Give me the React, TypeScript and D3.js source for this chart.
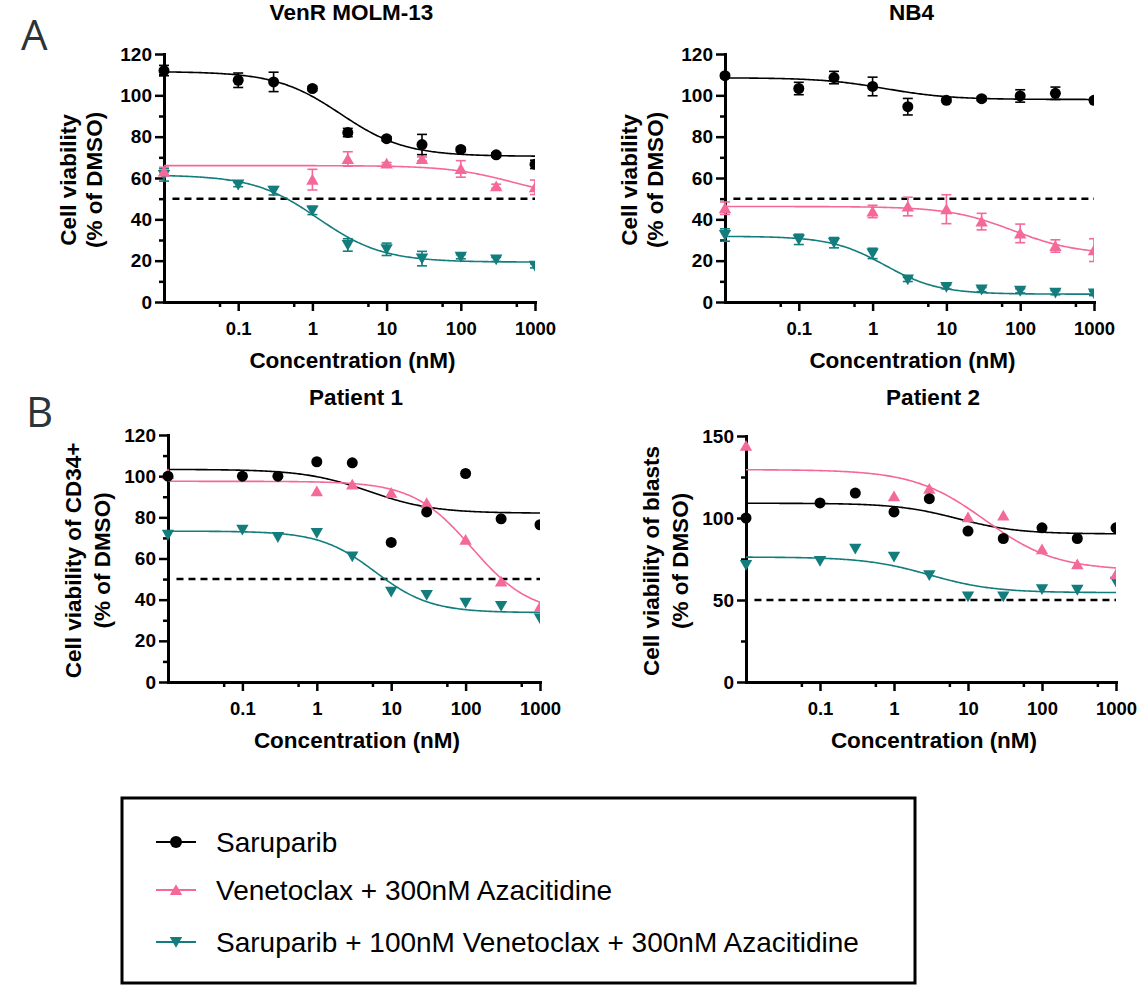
import React, { useEffect, useRef } from 'react';
import * as d3 from 'd3';

// concentrations (nM); the first one is the vehicle point drawn at the axis start
const conc = [0.01, 0.1, 0.3, 1, 3, 10, 30, 100, 300, 1000];
const xTickValues = [0.1, 1, 10, 100, 1000];
const xMinorTicks = [0.056, 0.56, 5.6, 56, 560];
const yTicks120 = [0, 20, 40, 60, 80, 100, 120];
const yMinor120 = [10, 30, 50, 70, 90, 110];
const yTicks150 = [0, 50, 100, 150];
const yMinor150 = [25, 75, 125];

const seriesNames = [
  'Saruparib',
  'Venetoclax + 300nM Azacitidine',
  'Saruparib + 100nM Venetoclax + 300nM Azacitidine',
];
const seriesColors = ['#000000', '#f5689a', '#137d7d'];
const seriesShapes = ['circle', 'up', 'down'];

// VenR MOLM-13
const molmSaru = [112, 107.3, 106.5, 103.3, 82, 79, 76.2, 73.8, 71.2, 66.6];
const molmSaruErr = [2.5, 3.5, 4.7, 1, 2, 1, 4.9, 1, 1, 2];
const molmVen = [63.2, null, null, 59.2, 69.2, 67, 69.2, 64.4, 56, 55.5];
const molmVenErr = [2, 0, 0, 5, 3.5, 0.5, 1, 4, 1, 3.5];
const molmCombo = [61.5, 56.8, 53.8, 44.3, 27.6, 25.5, 21, 21.9, 20.6, 17.5];
const molmComboErr = [3, 1, 2, 2, 3, 3, 3.5, 1, 1, 1];
// fitted curves: [top, bottom, IC50, hill]
const molmSaruFit = [111.5, 70.5, 2.4, 1];
const molmVenFit = [66, 50, 500, 1];
const molmComboFit = [61.5, 19.3, 1.2, 1];

// NB4
const nb4Saru = [109.5, 103.3, 108.6, 104.3, 94.5, 97.6, 98.4, 99.7, 101, 97.6];
const nb4SaruErr = [1, 3, 3, 4.5, 4, 1, 1, 3, 3, 1];
const nb4Ven = [45.4, null, null, 43.8, 46.2, 44.9, 38.9, 33.2, 27.1, 25.1];
const nb4VenErr = [3, 0, 0, 3, 4.5, 7, 4, 4.5, 3, 5.5];
const nb4Combo = [32.4, 30.3, 28.7, 23.5, 10.9, 7.3, 6, 5.4, 4.5, 4.1];
const nb4ComboErr = [3, 2.5, 2.5, 2.5, 1, 1, 1, 1, 1, 1];
const nb4SaruFit = [108.5, 98, 1.5, 1];
const nb4VenFit = [46.2, 23, 80, 1];
const nb4ComboFit = [31.8, 3.8, 1.47, 1.19];

// Patient 1
const p1Saru = [100, 100, 100, 107, 106.5, 67.8, 82.6, 101.3, 79.3, 76.4];
const p1Ven = [101, null, null, 92.7, 95.9, 91.9, 87, 69.1, 48.8, 36.6];
const p1Combo = [71.5, 74, 70.4, 72.4, 61, 43.9, 42.3, 38.5, 36.9, 30.9];
const p1SaruFit = [103.3, 82, 5, 1];
const p1VenFit = [97.5, 33, 121, 1.1];
const p1ComboFit = [73.3, 33.7, 6.1, 1.17];

// Patient 2
const p2Saru = [100, 109.2, 115.2, 103.7, 111.8, 92, 87.5, 94, 87.5, 94];
const p2Ven = [144, null, null, 113.2, 117.8, 100.5, 101.5, 80.9, 71.8, 65.7];
const p2Combo = [71.4, 73.8, 81.3, 76.4, 65.1, 52.2, 52.2, 56.6, 56.2, 61.2];
const p2SaruFit = [109, 90.3, 7.2, 1.06];
const p2VenFit = [129.5, 68, 17, 0.9];
const p2ComboFit = [76.2, 54.5, 3, 1];

const panelTitles = ['VenR MOLM-13', 'NB4', 'Patient 1', 'Patient 2'];
const yLabelLines = [
  ['Cell viability', '(% of DMSO)'],
  ['Cell viability', '(% of DMSO)'],
  ['Cell viability of CD34+', '(% of DMSO)'],
  ['Cell viability of blasts', '(% of DMSO)'],
];

const fourPL = (p, x) => p[1] + (p[0] - p[1]) / (1 + Math.pow(x / p[2], p[3]));

const drawMarker = (g, shape, color, cx, cy, r = 5.5) => {
  if (shape === 'circle') {
    g.append('circle').attr('cx', cx).attr('cy', cy).attr('r', r).attr('fill', color);
  } else if (shape === 'up') {
    g.append('path')
      .attr('d', `M${cx},${cy - 5.8}L${cx + 6.2},${cy + 5}L${cx - 6.2},${cy + 5}Z`)
      .attr('fill', color);
  } else {
    g.append('path')
      .attr('d', `M${cx},${cy + 5.8}L${cx - 6.2},${cy - 5}L${cx + 6.2},${cy - 5}Z`)
      .attr('fill', color);
  }
};

const App = () => {
  const svgRef = useRef(null);

  useEffect(() => {
    const svg = d3.select(svgRef.current);
    svg.selectAll('*').remove();
    const font = "'Liberation Sans', Arial, Helvetica, sans-serif";

    const panels = [
      {
        x0: 164, x1: 535, yTop: 54, yBot: 302, yMax: 120, major: yTicks120, minor: yMinor120,
        titleY: 20, labelOff: [-88.5, -62],
        series: [
          { vals: molmSaru, err: molmSaruErr, fit: molmSaruFit },
          { vals: molmVen, err: molmVenErr, fit: molmVenFit },
          { vals: molmCombo, err: molmComboErr, fit: molmComboFit },
        ],
      },
      {
        x0: 725, x1: 1094, yTop: 54, yBot: 302, yMax: 120, major: yTicks120, minor: yMinor120,
        titleY: 20, labelOff: [-88.5, -62],
        series: [
          { vals: nb4Saru, err: nb4SaruErr, fit: nb4SaruFit },
          { vals: nb4Ven, err: nb4VenErr, fit: nb4VenFit },
          { vals: nb4Combo, err: nb4ComboErr, fit: nb4ComboFit },
        ],
      },
      {
        x0: 168, x1: 540, yTop: 435, yBot: 682, yMax: 120, major: yTicks120, minor: yMinor120,
        titleY: 405, labelOff: [-87, -58],
        series: [
          { vals: p1Saru, err: null, fit: p1SaruFit },
          { vals: p1Ven, err: null, fit: p1VenFit },
          { vals: p1Combo, err: null, fit: p1ComboFit },
        ],
      },
      {
        x0: 746, x1: 1116, yTop: 436, yBot: 682, yMax: 150, major: yTicks150, minor: yMinor150,
        titleY: 405, labelOff: [-87, -58],
        series: [
          { vals: p2Saru, err: null, fit: p2SaruFit },
          { vals: p2Ven, err: null, fit: p2VenFit },
          { vals: p2Combo, err: null, fit: p2ComboFit },
        ],
      },
    ];

    const curveX = d3.range(-2, 3.0001, 0.02).map((e) => Math.pow(10, e));

    panels.forEach((p, pi) => {
      const x = d3.scaleLog().domain([0.01, 1000]).range([p.x0, p.x1]);
      const y = d3.scaleLinear().domain([0, p.yMax]).range([p.yBot, p.yTop]);
      const g = svg.append('g');

      // title
      g.append('text')
        .attr('x', (p.x0 + p.x1) / 2 + 2)
        .attr('y', p.titleY)
        .attr('text-anchor', 'middle')
        .attr('font-family', font)
        .attr('font-weight', 'bold')
        .attr('font-size', 22.5)
        .text(panelTitles[pi]);

      // y label (two lines)
      const yc = (p.yTop + p.yBot) / 2 + 2;
      yLabelLines[pi].forEach((line, li) => {
        g.append('text')
          .attr('transform', `translate(${p.x0 + p.labelOff[li]},${yc}) rotate(-90)`)
          .attr('text-anchor', 'middle')
          .attr('font-family', font)
          .attr('font-weight', 'bold')
          .attr('font-size', 22.5)
          .text(line);
      });

      // x label
      g.append('text')
        .attr('x', (p.x0 + p.x1) / 2 + 3)
        .attr('y', p.yBot + 66)
        .attr('text-anchor', 'middle')
        .attr('font-family', font)
        .attr('font-weight', 'bold')
        .attr('font-size', 22.5)
        .text('Concentration (nM)');

      // axes
      const yAxis = g.append('g')
        .attr('transform', `translate(${p.x0},0)`)
        .call(d3.axisLeft(y).tickValues(p.major).tickSize(9).tickPadding(3).tickSizeOuter(0));
      g.append('g')
        .attr('transform', `translate(${p.x0},0)`)
        .call(d3.axisLeft(y).tickValues(p.minor).tickSize(5).tickFormat(() => '').tickSizeOuter(0))
        .call((a) => a.select('.domain').remove());
      const xAxis = g.append('g')
        .attr('transform', `translate(0,${p.yBot})`)
        .call(d3.axisBottom(x).tickValues(xTickValues).tickFormat((d) => String(d)).tickSize(9).tickPadding(11).tickSizeOuter(0));
      g.append('g')
        .attr('transform', `translate(0,${p.yBot})`)
        .call(d3.axisBottom(x).tickValues(xMinorTicks).tickSize(5).tickFormat(() => '').tickSizeOuter(0))
        .call((a) => a.select('.domain').remove());

      g.selectAll('.domain').attr('stroke', '#000').attr('stroke-width', 3).attr('stroke-linecap', 'square');
      g.selectAll('.tick line').attr('stroke', '#000').attr('stroke-width', 2.5);
      yAxis.selectAll('text').attr('font-family', font).attr('font-weight', 'bold').attr('font-size', 19).attr('fill', '#000');
      xAxis.selectAll('text').attr('font-family', font).attr('font-weight', 'bold').attr('font-size', 18.5).attr('fill', '#000');

      // clip at the right end of the x axis
      const clipId = `clip-${pi}`;
      svg.append('clipPath').attr('id', clipId)
        .append('rect')
        .attr('x', p.x0 - 20).attr('y', p.yTop - 30)
        .attr('width', p.x1 - p.x0 + 20).attr('height', p.yBot - p.yTop + 60);
      const plot = g.append('g').attr('clip-path', `url(#${clipId})`);

      // 50% reference line
      plot.append('line')
        .attr('x1', x(0.013)).attr('x2', x(1000))
        .attr('y1', y(50)).attr('y2', y(50))
        .attr('stroke', '#000').attr('stroke-width', 2.5)
        .attr('stroke-dasharray', '7,5');

      // fitted curves
      const line = d3.line().x((d) => x(d[0])).y((d) => y(d[1]));
      p.series.forEach((s, si) => {
        plot.append('path')
          .datum(curveX.map((c) => [c, fourPL(s.fit, c)]))
          .attr('d', line)
          .attr('fill', 'none')
          .attr('stroke', seriesColors[si])
          .attr('stroke-width', 1.6);
      });

      // points and error bars (teal, pink, then black on top)
      [2, 1, 0].forEach((si) => {
        const s = p.series[si];
        const col = seriesColors[si];
        s.vals.forEach((v, i) => {
          if (v == null) return;
          const cx = x(conc[i]);
          if (s.err && s.err[i] > 0) {
            const e = s.err[i];
            const eb = plot.append('g').attr('stroke', col).attr('stroke-width', 1.6);
            eb.append('line').attr('x1', cx).attr('x2', cx).attr('y1', y(v - e)).attr('y2', y(v + e));
            eb.append('line').attr('x1', cx - 5).attr('x2', cx + 5).attr('y1', y(v - e)).attr('y2', y(v - e));
            eb.append('line').attr('x1', cx - 5).attr('x2', cx + 5).attr('y1', y(v + e)).attr('y2', y(v + e));
          }
          drawMarker(plot, seriesShapes[si], col, cx, y(v));
        });
      });
    });

    // panel letters
    svg.append('text').attr('x', 21).attr('y', 50)
      .attr('font-family', "'Open Sans', sans-serif").attr('font-size', 42).attr('fill', '#2a3439').text('A');
    svg.append('text').attr('x', 26).attr('y', 427)
      .attr('font-family', "'Open Sans', sans-serif").attr('font-size', 42).attr('fill', '#2a3439').text('B');

    // legend
    svg.append('rect')
      .attr('x', 122).attr('y', 798).attr('width', 793).attr('height', 185)
      .attr('fill', 'none').attr('stroke', '#000').attr('stroke-width', 3);
    const rowY = [842, 890, 942];
    seriesNames.forEach((name, i) => {
      const ly = rowY[i];
      svg.append('line').attr('x1', 156).attr('x2', 196).attr('y1', ly).attr('y2', ly)
        .attr('stroke', seriesColors[i]).attr('stroke-width', 2);
      drawMarker(svg, seriesShapes[i], seriesColors[i], 176, ly, 6);
      svg.append('text').attr('x', 216).attr('y', ly + 9.5)
        .attr('font-family', font).attr('font-size', 28).attr('fill', '#000').text(name);
    });
  }, []);

  return (
    <svg
      ref={svgRef}
      width={1137}
      height={985}
      style={{ position: 'absolute', left: 0, top: 0, background: '#fff' }}
    />
  );
};

export default App;
